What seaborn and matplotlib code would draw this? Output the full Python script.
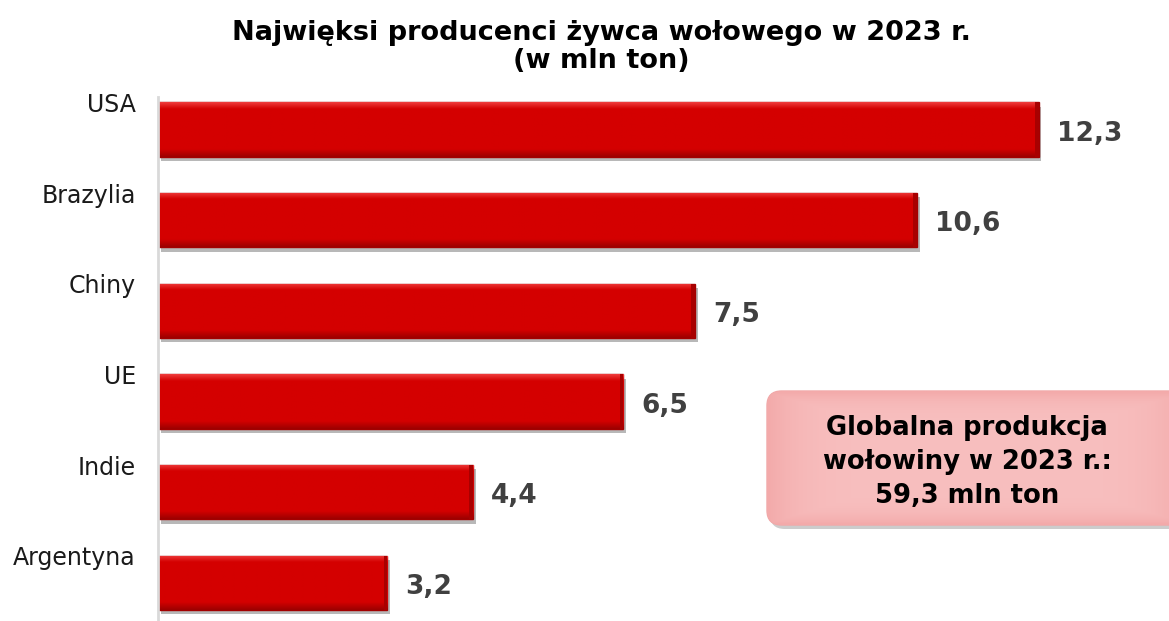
import matplotlib
matplotlib.use("Agg")
import matplotlib.pyplot as plt
import matplotlib.transforms as mtransforms
import matplotlib.patheffects as pe
from matplotlib.patches import FancyBboxPatch
from matplotlib.colors import to_rgb
import numpy as np
import seaborn as sns
import pandas as pd

countries = ["USA", "Brazylia", "Chiny", "UE", "Indie", "Argentyna"]
values = [12.3, 10.6, 7.5, 6.5, 4.4, 3.2]
value_labels = ["12,3", "10,6", "7,5", "6,5", "4,4", "3,2"]
title = "Najwięksi producenci żywca wołowego w 2023 r.\n(w mln ton)"
box_text = "Globalna produkcja\nwołowiny w 2023 r.:\n59,3 mln ton"

sns.set_style("white")
plt.rcParams["font.family"] = ["DejaVu Sans"]

df = pd.DataFrame({"kraj": countries, "wartosc": values})

W, H = 1169, 621
fig = plt.figure(figsize=(W / 100, H / 100), dpi=100)
ax = fig.add_axes([158 / W, 0, 1 - 158 / W, (621 - 97) / H])

sns.barplot(data=df, x="wartosc", y="kraj", orient="h", ax=ax,
            color="#D40000", width=0.6, saturation=1,
            edgecolor="#A30000", linewidth=1.0)

ax.set_xlim(0, 1011 / 71.6)
ax.set_ylim(5.42, -0.36)


def bevel_image(n=60, m=20, top="#EE3A3A", mid="#D40000", bot="#9E0000"):
    t = np.linspace(0, 1, n)[:, None]
    c_top, c_mid, c_bot = (np.array(to_rgb(c)) for c in (top, mid, bot))
    w_top = np.clip(1 - t / 0.12, 0, 1)
    w_bot = np.clip((t - 0.86) / 0.14, 0, 1)
    base = c_mid * (1 - w_top - w_bot) + c_top * w_top + c_bot * w_bot
    img = np.repeat(base[:, None, :], m, axis=1)
    return img


for p in list(ax.patches):
    p.set_path_effects([pe.SimplePatchShadow(offset=(2, -3), shadow_rgbFace="#000000", alpha=0.28),
                        pe.Normal()])
    x0, y0 = p.get_x(), p.get_y()
    w, h = p.get_width(), p.get_height()
    im = ax.imshow(bevel_image(), extent=(x0, x0 + w, y0 + h, y0), aspect="auto",
                   origin="upper", zorder=p.get_zorder() + 0.1, interpolation="bilinear")
    im.set_clip_path(p)
    ax.add_patch(plt.Rectangle((x0 + w - 0.05, y0), 0.05, h, facecolor="#A80000",
                               edgecolor="none", zorder=p.get_zorder() + 0.2))

ax.set_xlim(0, 1011 / 71.6)
ax.set_ylim(5.42, -0.36)
ax.set_xlabel("")
ax.set_ylabel("")
ax.set_xticks([])
for s in ["top", "right", "bottom"]:
    ax.spines[s].set_visible(False)
ax.spines["left"].set_color("#D9D9D9")
ax.spines["left"].set_linewidth(2)

ax.tick_params(axis="y", length=0, pad=16, labelsize=17, labelcolor="#1a1a1a")
offset = mtransforms.ScaledTranslation(0, 27 / 100, fig.dpi_scale_trans)
for lab in ax.get_yticklabels():
    lab.set_transform(lab.get_transform() + offset)

for i, (v, t) in enumerate(zip(values, value_labels)):
    ax.annotate(t, xy=(v, i), xytext=(13, -3), textcoords="offset points",
                ha="left", va="center", fontsize=19, fontweight="bold",
                color="#404040")

fig.text(601 / W, 1 - 47 / H, title, ha="center", va="center",
         fontsize=19.5, fontweight="bold", color="#000000", linespacing=1.1)

# summary box
bw, bh = 420, 134
bax = fig.add_axes([767 / W, 1 - 525 / H, bw / W, bh / H], zorder=2)
bax.set_xlim(0, 1)
bax.set_ylim(0, 1)
bax.axis("off")
ny, nx = 80, 200
yy = np.linspace(-1, 1, ny)[:, None]
xx = np.linspace(-1, 1, nx)[None, :]
r = np.clip(np.maximum(np.abs(xx) ** 6, np.abs(yy) ** 6), 0, 1)
c_in, c_out = np.array(to_rgb("#F8BFBF")), np.array(to_rgb("#F3AAAA"))
box_img = c_in * (1 - r[..., None]) + c_out * r[..., None]
style = "round,pad=0,rounding_size=0.035"
shadow = FancyBboxPatch((0, 0), 1, 1, boxstyle=style, mutation_aspect=bw / bh,
                        transform=bax.transAxes + mtransforms.ScaledTranslation(3 / 100, -4 / 100, fig.dpi_scale_trans),
                        facecolor="#000000", alpha=0.2, edgecolor="none", zorder=0, clip_on=False)
bax.add_patch(shadow)
box = FancyBboxPatch((0, 0), 1, 1, boxstyle=style, mutation_aspect=bw / bh,
                     transform=bax.transAxes, facecolor="#F7B4B4",
                     edgecolor="#F0A8A8", linewidth=1, zorder=1, clip_on=False)
bax.add_patch(box)
bim = bax.imshow(box_img, extent=(0, 1, 0, 1), aspect="auto", zorder=2)
bim.set_clip_path(box)

fig.text(967 / W, 1 - 462 / H, box_text, ha="center", va="center",
         fontsize=18.6, fontweight="bold", color="#000000", linespacing=1.42,
         zorder=5)

fig.savefig("out.png", dpi=100)
